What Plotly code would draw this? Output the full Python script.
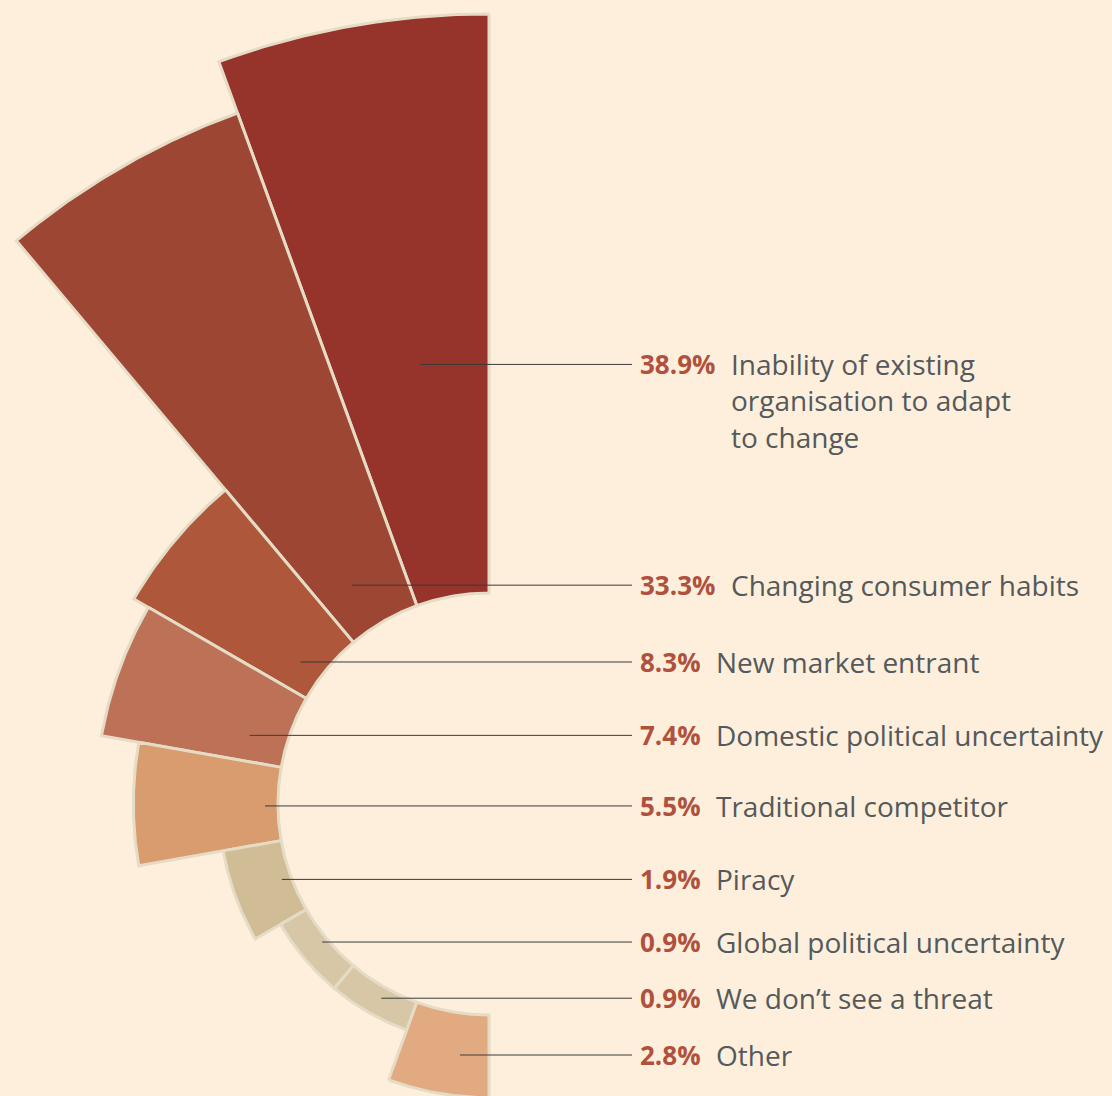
import math
import plotly.graph_objects as go

# ---------------- data ----------------
CATEGORIES = [
    "Inability of existing organisation to adapt to change",
    "Changing consumer habits",
    "New market entrant",
    "Domestic political uncertainty",
    "Traditional competitor",
    "Piracy",
    "Global political uncertainty",
    "We don’t see a threat",
    "Other",
]
VALUES = [38.9, 33.3, 8.3, 7.4, 5.5, 1.9, 0.9, 0.9, 2.8]
PCT_LABELS = ["38.9%", "33.3%", "8.3%", "7.4%", "5.5%", "1.9%", "0.9%", "0.9%", "2.8%"]
LABEL_TEXTS = [
    "Inability of existing<br>organisation to adapt<br>to change",
    "Changing consumer habits",
    "New market entrant",
    "Domestic political uncertainty",
    "Traditional competitor",
    "Piracy",
    "Global political uncertainty",
    "We don’t see a threat",
    "Other",
]

# ---------------- styles ----------------
BAR_COLORS = ["#96332a", "#9e4634", "#ae573a", "#bd7258", "#d99c6e",
              "#d0bc95", "#d7c7a6", "#d7c7a6", "#e1aa81"]
BG = "#fdefdc"
STROKE = "#e5dcc6"
PCT_COLOR = "#b0513d"
TEXT_COLOR = "#54595b"
LEADER_COLOR = "#3a3a3a"

# ---------------- geometry ----------------
# Sector area is proportional to the value: r_outer^2 = HOLE^2 + value
HOLE = 1.7286                 # inner radius, in sqrt(percentage point) units
PX_PER_UNIT = 122.07          # screen scale of one unit
W, H = 1112, 1096
CX_PX, CY_PX = 489, 804       # where the centre of the rose sits on the page
START_ANGLE, SPAN = 90.0, 180.0
SECTOR_W = SPAN / len(VALUES)
ARC_STEPS = 60

# leader anchors inside each bar: (degrees from vertical, radius in units)
LEADER_ANCHORS = [(8.9, 3.645), (32, 2.114), (53, 1.933), (74, 2.040), (90.5, 1.835),
                  (110, 1.806), (129.6, 1.774), (151, 1.819), (173.4, 2.070)]
LEADER_END_X = 1.1715
PCT_X = 1.221
DESC_OFFSET_4 = 0.622         # text start after a 4-character percentage
DESC_OFFSET_STEP = 0.123      # extra offset per extra character

X_RANGE = [-CX_PX / PX_PER_UNIT, (W - CX_PX) / PX_PER_UNIT]
Y_RANGE = [-(H - CY_PX) / PX_PER_UNIT, CY_PX / PX_PER_UNIT]

fig = go.Figure()

for i, v in enumerate(VALUES):
    r_out = math.sqrt(HOLE ** 2 + v)
    t0 = START_ANGLE + SECTOR_W * i
    t1 = t0 + SECTOR_W
    angs = [math.radians(t0 + (t1 - t0) * k / ARC_STEPS) for k in range(ARC_STEPS + 1)]
    xs = [r_out * math.cos(a) for a in angs] + [HOLE * math.cos(a) for a in reversed(angs)]
    ys = [r_out * math.sin(a) for a in angs] + [HOLE * math.sin(a) for a in reversed(angs)]
    xs.append(xs[0])
    ys.append(ys[0])
    fig.add_trace(go.Scatter(
        x=xs, y=ys, mode="lines", fill="toself",
        fillcolor=BAR_COLORS[i],
        line=dict(color=STROKE, width=3),
        name=CATEGORIES[i], hoverinfo="skip", showlegend=False,
    ))

lx, ly = [], []
annotations = []
for i, (ang, rad) in enumerate(LEADER_ANCHORS):
    a = math.radians(ang)
    x0 = -rad * math.sin(a)
    y0 = rad * math.cos(a)
    lx += [x0, LEADER_END_X, None]
    ly += [y0, y0, None]
    annotations.append(dict(
        xref="x", yref="y", x=PCT_X, y=y0,
        xanchor="left", yanchor="middle", showarrow=False,
        text="<b>" + PCT_LABELS[i] + "</b>",
        font=dict(family="Open Sans", size=26, color=PCT_COLOR),
    ))
    desc_x = PCT_X + DESC_OFFSET_4 + DESC_OFFSET_STEP * (len(PCT_LABELS[i]) - 4)
    multi = "<br>" in LABEL_TEXTS[i]
    annotations.append(dict(
        xref="x", yref="y", x=desc_x, y=y0,
        xanchor="left", yanchor="top" if multi else "middle",
        yshift=21 if multi else 0,
        showarrow=False, align="left",
        text=LABEL_TEXTS[i],
        font=dict(family="Open Sans", size=28, color=TEXT_COLOR),
    ))

fig.add_trace(go.Scatter(
    x=lx, y=ly, mode="lines",
    line=dict(color=LEADER_COLOR, width=1),
    hoverinfo="skip", showlegend=False,
))

fig.update_layout(
    width=W, height=H,
    margin=dict(l=0, r=0, t=0, b=0),
    paper_bgcolor=BG,
    plot_bgcolor=BG,
    hovermode=False,
    xaxis=dict(visible=False, range=X_RANGE, fixedrange=True),
    yaxis=dict(visible=False, range=Y_RANGE, fixedrange=True),
    annotations=annotations,
)

fig.write_html("out.html")
